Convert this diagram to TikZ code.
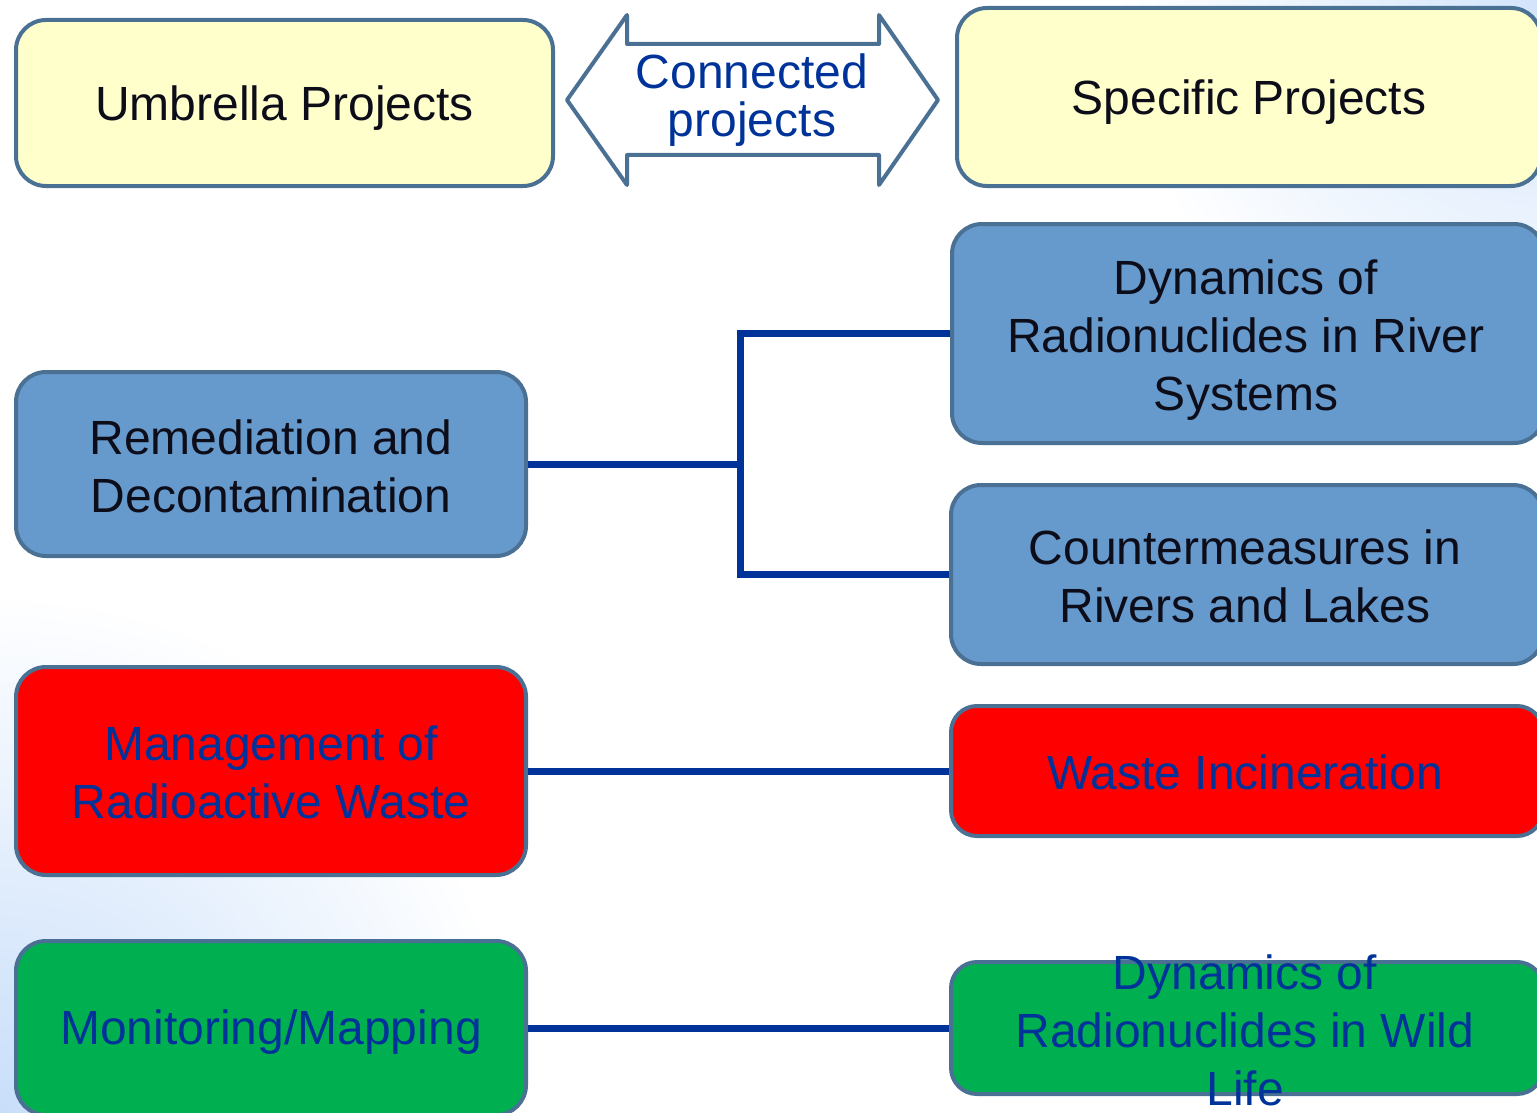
\documentclass[tikz,border=0pt]{standalone}
\usepackage{fontspec}
\setmainfont{Liberation Sans}
\definecolor{boxline}{HTML}{4A7094}
\definecolor{yfill}{HTML}{FFFFCC}
\definecolor{bfill}{HTML}{6699CC}
\definecolor{rfill}{HTML}{FF0000}
\definecolor{gfill}{HTML}{00B050}
\definecolor{dblue}{HTML}{003399}
\definecolor{ink}{HTML}{0D0D1A}
\definecolor{bglight}{HTML}{C8DEFA}
\begin{document}
\begin{tikzpicture}[x=1pt,y=-1pt,
  box/.style={draw=boxline, line width=4pt, rounded corners=30pt, inner sep=0pt},
  ybox/.style={box, fill=yfill},
  bbox/.style={box, fill=bfill},
  rbox/.style={box, fill=rfill},
  gbox/.style={box, fill=gfill},
  lbl/.style={align=center, inner sep=0pt, font=\fontsize{48}{58}\selectfont},
  dark/.style={lbl, text=ink},
  blu/.style={lbl, text=dblue},
  link/.style={draw=dblue, line width=7pt}]
\useasboundingbox (0,0) rectangle (1537,1113);
\clip (0,0) rectangle (1537,1113);
\fill[white] (0,0) rectangle (1537,1113);
\shade[inner color=bglight, outer color=white] (0,1113) circle (520);
\shade[inner color=bglight!80, outer color=white] (1537,0) circle (420);

% double arrow
\draw[boxline, fill=white, line width=4pt, line join=round]
  (567,100) -- (627,15) -- (627,44) -- (879,44) -- (879,15) -- (938,100)
  -- (879,185) -- (879,155) -- (627,155) -- (627,185) -- cycle;
\node[blu, font=\fontsize{48}{48}\selectfont] (conn) at (752,100) {Connected\\projects};

% left column
\node[ybox, minimum width=537, minimum height=166] (umb) at (284.5,103) {};
\node[dark] (umbt) at (284.5,108) {Umbrella Projects};
\node[bbox, minimum width=510, minimum height=184] (rem) at (271,464) {};
\node[dark] (remt) at (271,466) {Remediation and\\Decontamination};
\node[rbox, minimum width=510, minimum height=208] (mgmt) at (271,771) {};
\node[blu] (mgmtt) at (271,772.5) {Management of\\Radioactive Waste};
\node[gbox, minimum width=510, minimum height=174] (mon) at (271,1028) {};
\node[blu] (mont) at (271,1032) {Monitoring/Mapping};

% right column
\node[ybox, minimum width=584, minimum height=178] (spec) at (1249,97) {};
\node[dark] (spect) at (1249,102) {Specific Projects};
\node[bbox, minimum width=592, minimum height=219] (river) at (1248,333.5) {};
\node[dark] (rivert) at (1246,340) {Dynamics of\\Radionuclides in River\\Systems};
\node[bbox, minimum width=592, minimum height=179] (counter) at (1247,574.5) {};
\node[dark] (countert) at (1245,576.5) {Countermeasures in\\Rivers and Lakes};
\node[rbox, minimum width=592, minimum height=130, rounded corners=26pt] (waste) at (1247,771) {};
\node[blu] (wastet) at (1245,772) {Waste Incineration};
\node[gbox, minimum width=592, minimum height=132, rounded corners=26pt] (wild) at (1247,1028) {};
\node[blu] (wildt) at (1245,1030) {Dynamics of\\Radionuclides in Wild\\Life};

% connectors
\coordinate (j) at (740,464);
\draw[link] (rem.east) -- (j);
\draw[link] (river.west) -| (j) |- (counter.west);
\draw[link] (mgmt.east) -- (waste.west);
\draw[link] (mon.east) -- (wild.west);
\end{tikzpicture}
\end{document}
